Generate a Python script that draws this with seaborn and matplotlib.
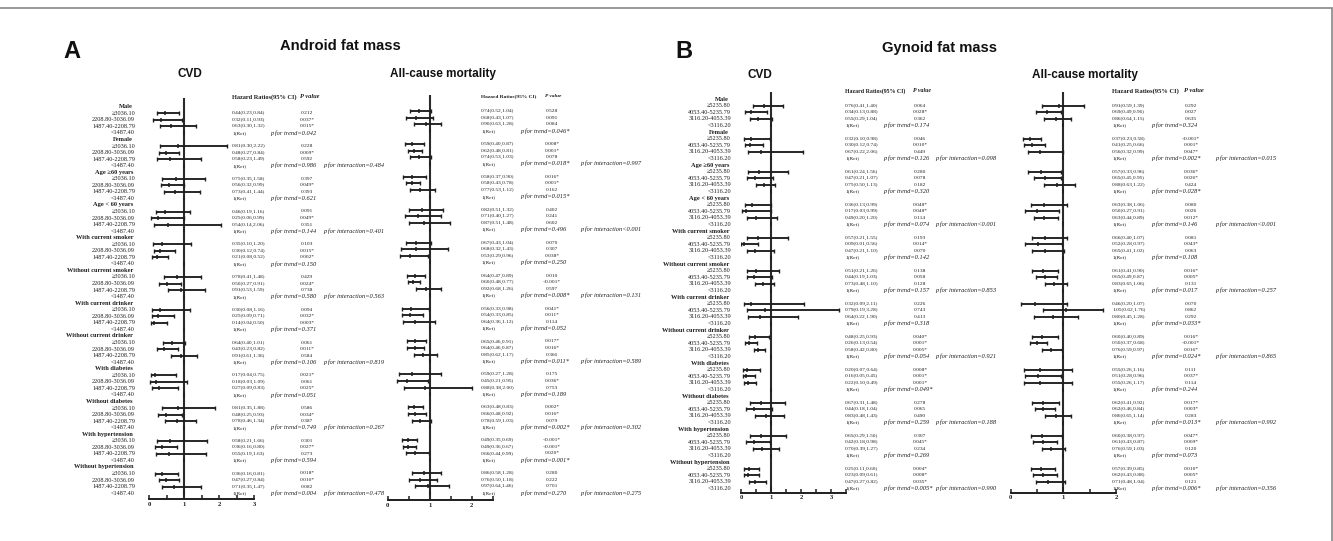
import numpy as np
import pandas as pd
import matplotlib
matplotlib.use("Agg")
import matplotlib.pyplot as plt
import seaborn as sns
from matplotlib.lines import Line2D
from matplotlib.ticker import MultipleLocator, FixedLocator
from matplotlib.transforms import blended_transform_factory

W, H = 1333, 541
sns.set_theme(style="white")
plt.rcParams['font.family'] = ['Liberation Serif', 'DejaVu Serif']

# ---------------- data ----------------
groups = ["Male", "Female", "Age \u226560 years", "Age < 60 years", "With current smoker",
          "Without current smoker", "With current drinker", "Without current drinker",
          "With diabetes", "Without diabetes", "With hypertension", "Without hypertension"]
android_levels = ["\u22653036.10", "2208.80-3036.09", "1487.40-2208.79", "<1487.40"]
gynoid_levels = ["\u22655235.80", "4053.40-5235.79", "3116.20-4053.39", "<3116.20"]

# Panel A, CVD
a_cvd_hr = [0.44, 0.32, 0.63, 0.81, 0.48, 0.58, 0.75, 0.56, 0.73, 0.46, 0.25, 0.54,
            0.35, 0.30, 0.21, 0.78, 0.50, 0.91, 0.30, 0.25, 0.14, 0.64, 0.43, 0.91,
            0.17, 0.18, 0.27, 0.81, 0.48, 0.78, 0.58, 0.36, 0.55, 0.36, 0.47, 0.71]
a_cvd_lo = [0.23, 0.11, 0.30, 0.30, 0.27, 0.23, 0.35, 0.32, 0.41, 0.19, 0.06, 0.14,
            0.10, 0.12, 0.08, 0.41, 0.27, 0.53, 0.08, 0.09, 0.04, 0.40, 0.23, 0.61,
            0.04, 0.03, 0.09, 0.35, 0.25, 0.46, 0.21, 0.16, 0.19, 0.16, 0.27, 0.35]
a_cvd_hi = [0.84, 0.93, 1.32, 2.22, 0.84, 1.49, 1.58, 0.99, 1.44, 1.16, 0.99, 2.06,
            1.20, 0.74, 0.52, 1.48, 0.91, 1.59, 1.16, 0.71, 0.50, 1.01, 0.82, 1.36,
            0.75, 1.09, 0.83, 1.88, 0.93, 1.34, 1.66, 0.80, 1.63, 0.81, 0.84, 1.47]
a_cvd_p = ["0.212", "0.037*", "0.015*", "0.228", "0.009*", "0.592", "0.397", "0.049*", "0.393",
           "0.091", "0.049*", "0.351", "0.103", "0.015*", "0.002*", "0.429", "0.024*", "0.738",
           "0.094", "0.032*", "0.003*", "0.061", "0.011*", "0.584", "0.021*", "0.061", "0.025*",
           "0.586", "0.034*", "0.387", "0.301", "0.027*", "0.273", "0.018*", "0.010*", "0.082"]
a_cvd_trend = ["0.042", "0.986", "0.621", "0.144", "0.150", "0.580",
               "0.371", "0.106", "0.051", "0.749", "0.594", "0.004"]
a_cvd_inter = ["=0.484", "=0.401", "=0.563", "=0.819", "=0.267", "=0.478"]

# Panel A, all-cause mortality
a_all_hr = [0.74, 0.68, 0.90, 0.59, 0.62, 0.74, 0.58, 0.58, 0.77, 0.82, 0.71, 0.87,
            0.67, 0.68, 0.53, 0.64, 0.60, 0.92, 0.56, 0.54, 0.64, 0.65, 0.64, 0.85,
            0.59, 0.45, 0.88, 0.63, 0.66, 0.78, 0.49, 0.49, 0.66, 0.86, 0.76, 0.97]
a_all_lo = [0.52, 0.43, 0.63, 0.40, 0.48, 0.53, 0.37, 0.43, 0.53, 0.51, 0.40, 0.51,
            0.43, 0.32, 0.29, 0.47, 0.48, 0.68, 0.33, 0.33, 0.36, 0.46, 0.46, 0.62,
            0.27, 0.21, 0.38, 0.48, 0.48, 0.59, 0.35, 0.36, 0.44, 0.58, 0.50, 0.64]
a_all_hi = [1.04, 1.07, 1.28, 0.87, 0.81, 1.03, 0.90, 0.78, 1.12, 1.32, 1.27, 1.48,
            1.04, 1.43, 0.96, 0.89, 0.77, 1.26, 0.98, 0.85, 1.12, 0.91, 0.87, 1.17,
            1.28, 0.95, 2.00, 0.83, 0.92, 1.03, 0.69, 0.67, 0.99, 1.28, 1.18, 1.46]
a_all_p = ["0.528", "0.091", "0.084", "0.008*", "0.001*", "0.078", "0.016*", "0.001*", "0.162",
           "0.402", "0.241", "0.602", "0.070", "0.307", "0.038*", "0.010", "<0.001*", "0.597",
           "0.041*", "0.011*", "0.114", "0.017*", "0.016*", "0.366", "0.175", "0.036*", "0.753",
           "0.002*", "0.016*", "0.079", "<0.001*", "<0.001*", "0.020*", "0.280", "0.222", "0.701"]
a_all_trend = ["0.046*", "0.018*", "0.015*", "0.496", "0.250", "0.008*",
               "0.052", "0.011*", "0.189", "0.002*", "0.001*", "0.270"]
a_all_inter = ["=0.997", "<0.001", "=0.131", "=0.589", "=0.302", "=0.275"]

# Panel B, CVD
b_cvd_hr = [0.76, 0.34, 0.55, 0.32, 0.30, 0.67, 0.61, 0.47, 0.75, 0.36, 0.17, 0.49,
            0.57, 0.09, 0.47, 0.51, 0.44, 0.73, 0.32, 0.79, 0.64, 0.48, 0.26, 0.58,
            0.20, 0.16, 0.22, 0.67, 0.44, 0.83, 0.65, 0.42, 0.70, 0.25, 0.23, 0.47]
b_cvd_lo = [0.41, 0.13, 0.29, 0.10, 0.12, 0.22, 0.24, 0.21, 0.50, 0.13, 0.03, 0.20,
            0.21, 0.01, 0.21, 0.21, 0.19, 0.48, 0.09, 0.19, 0.22, 0.25, 0.13, 0.42,
            0.07, 0.05, 0.10, 0.31, 0.18, 0.48, 0.29, 0.18, 0.39, 0.11, 0.09, 0.27]
b_cvd_hi = [1.40, 0.88, 1.04, 0.98, 0.74, 2.06, 1.56, 1.07, 1.13, 0.99, 0.99, 1.20,
            1.55, 0.56, 1.10, 1.26, 1.03, 1.10, 2.11, 3.28, 1.90, 0.93, 0.54, 0.80,
            0.64, 0.45, 0.49, 1.48, 1.04, 1.43, 1.50, 0.98, 1.27, 0.60, 0.61, 0.82]
b_cvd_p = ["0.064", "0.028*", "0.362", "0.046", "0.010*", "0.449", "0.280", "0.078", "0.182",
           "0.048*", "0.048*", "0.114", "0.193", "0.014*", "0.070", "0.138", "0.058", "0.128",
           "0.226", "0.743", "0.413", "0.040*", "0.001*", "0.005*", "0.008*", "0.001*", "0.001*",
           "0.278", "0.065", "0.490", "0.307", "0.045*", "0.234", "0.004*", "0.008*", "0.035*"]
b_cvd_trend = ["0.174", "0.126", "0.320", "0.074", "0.142", "0.157",
               "0.318", "0.054", "0.049*", "0.259", "0.269", "0.005*"]
b_cvd_inter = ["=0.098", "<0.001", "=0.853", "=0.921", "=0.188", "=0.990"]

# Panel B, all-cause mortality
b_all_hr = [0.91, 0.69, 0.86, 0.37, 0.41, 0.56, 0.57, 0.65, 0.88, 0.63, 0.50, 0.63,
            0.66, 0.52, 0.65, 0.61, 0.65, 0.83, 0.46, 1.05, 0.80, 0.60, 0.50, 0.76,
            0.55, 0.51, 0.55, 0.62, 0.62, 0.86, 0.60, 0.61, 0.76, 0.57, 0.62, 0.71]
b_all_lo = [0.59, 0.49, 0.64, 0.23, 0.25, 0.32, 0.33, 0.45, 0.63, 0.38, 0.27, 0.44,
            0.40, 0.28, 0.41, 0.41, 0.49, 0.65, 0.20, 0.62, 0.45, 0.40, 0.37, 0.59,
            0.26, 0.28, 0.26, 0.41, 0.46, 0.65, 0.38, 0.43, 0.59, 0.39, 0.43, 0.48]
b_all_hi = [1.39, 0.96, 1.15, 0.58, 0.66, 0.99, 0.96, 0.95, 1.22, 1.06, 0.91, 0.89,
            1.07, 0.97, 1.02, 0.90, 0.87, 1.06, 1.07, 1.76, 1.28, 0.89, 0.68, 0.97,
            1.16, 0.96, 1.17, 0.92, 0.84, 1.14, 0.97, 0.87, 1.03, 0.85, 0.88, 1.04]
b_all_p = ["0.292", "0.027", "0.635", "<0.001*", "0.001*", "0.047*", "0.036*", "0.026*", "0.424",
           "0.080", "0.026", "0.012*", "0.081", "0.043*", "0.063", "0.016*", "0.005*", "0.131",
           "0.070", "0.862", "0.292", "0.016*", "<0.001*", "0.016*", "0.111", "0.037*", "0.114",
           "0.017*", "0.003*", "0.283", "0.047*", "0.009*", "0.120", "0.010*", "0.005*", "0.121"]
b_all_trend = ["0.324", "0.002*", "0.028*", "0.146", "0.108", "0.017",
               "0.033*", "0.024*", "0.244", "0.013*", "0.073", "0.006*"]
b_all_inter = ["=0.015", "<0.001", "=0.257", "=0.865", "=0.992", "=0.356"]

# ---------------- figure ----------------
fig = plt.figure(figsize=(W / 100, H / 100), dpi=100)
fig.patch.set_facecolor("white")
INK = "#1e1e1e"


def px_axes(left, top, right, bottom):
    return fig.add_axes([left / W, 1 - bottom / H, (right - left) / W, (bottom - top) / H])


def forest(hr, lo, hi, pvals, trend, inter, levels, show_labels, lay):
    ax = px_axes(lay["left"], lay["top"], lay["right"], lay["bottom"])
    sp = lay["sp"]
    ytop = -(lay["row0"] - lay["top"]) / sp
    ybot = (lay["bottom"] - lay["row0"]) / sp
    ax.set_xlim(0, lay["xmax"])
    ax.set_ylim(ybot, ytop)
    ax.set_facecolor("none")

    rows, hrs, los, his = [], [], [], []
    k = 0
    for g in range(12):
        for j in range(3):
            rows.append(5 * g + 1 + j)
            hrs.append(hr[k]); los.append(lo[k]); his.append(hi[k])
            k += 1
    df = pd.DataFrame({"row": rows, "hr": hrs, "lo": los, "hi": his})
    ref_rows = [5 * g + 4 for g in range(12)]
    dref = pd.DataFrame({"row": ref_rows, "hr": [1.0] * 12})

    ax.axvline(1, color="#2a2a2a", lw=1.5, zorder=1)
    ax.hlines(df["row"], df["lo"], df["hi"], color=INK, lw=1.35, zorder=2)
    ends = pd.concat([df[["row", "lo"]].rename(columns={"lo": "x"}),
                      df[["row", "hi"]].rename(columns={"hi": "x"})])
    sns.scatterplot(data=ends, x="x", y="row", marker="|", s=12, color=INK,
                    linewidth=1.0, ax=ax, zorder=3, legend=False)
    sns.scatterplot(data=df, x="hr", y="row", marker="|", s=12, color=INK,
                    linewidth=1.1, ax=ax, zorder=3, legend=False)
    sns.scatterplot(data=dref, x="hr", y="row", marker="|", s=7, color=INK,
                    linewidth=1.1, ax=ax, zorder=3, legend=False)

    for s in ["top", "left", "right"]:
        ax.spines[s].set_visible(False)
    ax.spines["bottom"].set_color(INK)
    ax.spines["bottom"].set_linewidth(1.4)
    ax.set_xlabel(""); ax.set_ylabel("")
    ax.set_yticks([])
    ax.xaxis.set_major_locator(FixedLocator(list(range(int(lay["xmax"]) + 1))))
    ax.xaxis.set_minor_locator(MultipleLocator(0.5))
    ax.tick_params(axis="x", which="both", direction="in", length=3, width=1.1,
                   color=INK, bottom=True, pad=2, labelsize=4.8, labelcolor=INK)
    for t in ax.get_xticklabels():
        t.set_fontweight("bold")

    tr = blended_transform_factory(fig.transFigure, ax.transData)
    fx = lambda p: p / W
    hrow = lay["hrow"]
    ax.text(fx(lay["hrx"]), hrow, "Hazard Ratios(95% CI)", transform=tr, fontsize=lay["hsz"],
            fontweight="bold", color=INK, ha="left", va="center")
    ax.text(fx(lay["ph"]), hrow, "P value", transform=tr, fontsize=lay["hsz"], fontweight="bold",
            style="italic", color=INK, ha="left", va="center")
    k = 0
    for g in range(12):
        for j in range(3):
            r = 5 * g + 1 + j
            ax.text(fx(lay["hrx"]), r, f"{hr[k]:.2f}({lo[k]:.2f},{hi[k]:.2f})", transform=tr,
                    fontsize=3.9, color=INK, ha="left", va="center")
            ax.text(fx(lay["pc"]), r, pvals[k], transform=tr, fontsize=3.9, color=INK,
                    ha="center", va="center")
            k += 1
        r = 5 * g + 4
        ax.text(fx(lay["hrx"]), r, "1(Ref)", transform=tr, fontsize=3.9, color=INK,
                ha="left", va="center")
        ax.text(fx(lay["tx"]), r, "p for trend=" + trend[g], transform=tr, fontsize=4.6,
                style="italic", color=INK, ha="left", va="center")
        if g % 2 == 1:
            ax.text(fx(lay["ix"]), r, "p for interaction" + inter[g // 2], transform=tr,
                    fontsize=4.6, style="italic", color=INK, ha="left", va="center")
        if show_labels:
            ax.text(fx(lay["lab"] - 2), 5 * g, groups[g], transform=tr, fontsize=4.6,
                    fontweight="bold", color=INK, ha="right", va="center")
            for j, lv in enumerate(levels):
                ax.text(fx(lay["lab"]), 5 * g + 1 + j, lv, transform=tr, fontsize=4.5,
                        color=INK, ha="right", va="center")
    return ax


lay_a_cvd = dict(left=149.3, right=254.3, top=98, bottom=499, row0=106.7, sp=6.55, xmax=3,
                 hrow=-1.5, hrx=232, ph=300, pc=307, tx=270, ix=323, lab=135, hsz=4.6)
lay_a_all = dict(left=387.7, right=492.7, top=95, bottom=500, row0=104.4, sp=6.586, xmax=2.5,
                 hrow=-1.2, hrx=481, ph=545, pc=552, tx=520, ix=580, lab=None, hsz=3.9)
lay_b_cvd = dict(left=741, right=846, top=92, bottom=492.7, row0=99.1, sp=6.6, xmax=3.5,
                 hrow=-1.25, hrx=845, ph=913, pc=920, tx=883, ix=935, lab=731, hsz=4.2)
lay_b_all = dict(left=1010.7, right=1116, top=92, bottom=492.7, row0=99.1, sp=6.6, xmax=2,
                 hrow=-1.25, hrx=1112, ph=1184, pc=1191, tx=1151, ix=1215, lab=None, hsz=4.7)

forest(a_cvd_hr, a_cvd_lo, a_cvd_hi, a_cvd_p, a_cvd_trend, a_cvd_inter, android_levels, True, lay_a_cvd)
forest(a_all_hr, a_all_lo, a_all_hi, a_all_p, a_all_trend, a_all_inter, android_levels, False, lay_a_all)
forest(b_cvd_hr, b_cvd_lo, b_cvd_hi, b_cvd_p, b_cvd_trend, b_cvd_inter, gynoid_levels, True, lay_b_cvd)
forest(b_all_hr, b_all_lo, b_all_hi, b_all_p, b_all_trend, b_all_inter, gynoid_levels, False, lay_b_all)

# ---------------- titles ----------------
def ftext(x, y, s, size, **kw):
    fig.text(x / W, 1 - y / H, s, fontsize=size, family=["Liberation Sans", "DejaVu Sans"],
             fontweight="bold", color="#111111", ha="center", va="center", **kw)

ftext(72, 52, "A", 17)
ftext(340, 46, "Android fat mass", 10.6)
ftext(190, 74, "CVD", 8.5)
ftext(443, 74, "All-cause mortality", 8.5)
ftext(684, 52, "B", 17)
ftext(939, 48, "Gynoid fat mass", 10.6)
ftext(760, 75, "CVD", 8.5)
ftext(1085, 75, "All-cause mortality", 8.5)

# frame lines
fig.add_artist(Line2D([0, 1332 / W], [1 - 8 / H, 1 - 8 / H], transform=fig.transFigure,
                      color="#888888", lw=1.2))
fig.add_artist(Line2D([1332 / W, 1332 / W], [1 - 8 / H, 0], transform=fig.transFigure,
                      color="#888888", lw=1.2))

fig.savefig("out.png", dpi=100, facecolor="white")
